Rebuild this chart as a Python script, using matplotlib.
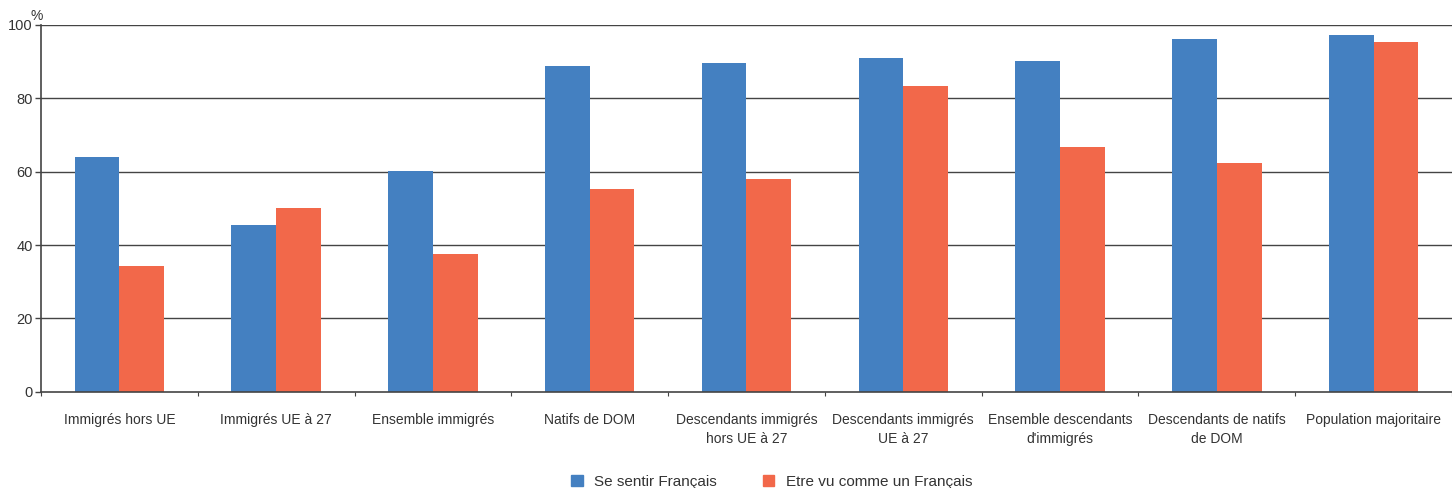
import matplotlib
matplotlib.use("Agg")
import matplotlib.pyplot as plt
import numpy as np
from matplotlib.patches import Patch

categories = ["Immigrés hors UE", "Immigrés UE à 27", "Ensemble immigrés", "Natifs de DOM",
              "Descendants immigrés\nhors UE à 27", "Descendants immigrés\nUE à 27",
              "Ensemble descendants\nd'immigrés", "Descendants de natifs\nde DOM",
              "Population majoritaire"]
se_sentir = [64.0, 45.5, 60.2, 88.8, 89.6, 91.0, 90.2, 96.2, 97.3]
etre_vu = [34.3, 50.1, 37.6, 55.3, 58.0, 83.4, 66.8, 62.4, 95.4]
series_names = ["Se sentir Français", "Etre vu comme un Français"]
yticks = [0, 20, 40, 60, 80, 100]

blue = "#4480C1"
red = "#F2684A"
dark = "#444444"

plt.rcParams['font.family'] = ['Liberation Sans', 'DejaVu Sans']

fig = plt.figure(figsize=(14.52, 4.88), dpi=100)
ax = fig.add_axes([0.0282, 0.197, 1 - 0.0282, 0.949 - 0.197])

x = np.arange(len(categories))
w = 0.285
ax.bar(x - w / 2, se_sentir, width=w, color=blue, zorder=3)
ax.bar(x + w / 2, etre_vu, width=w, color=red, zorder=3)

ax.set_ylim(0, 100)
ax.set_xlim(-0.5, 8.44)
ax.set_yticks(yticks)
ax.set_yticklabels([str(v) for v in yticks], fontsize=10.5, color="#333333")
for v in yticks[1:]:
    ax.axhline(v, color=dark, lw=1.0, zorder=1)

ax.set_xticks(x)
ax.set_xticklabels(categories, fontsize=10, color="#333333", linespacing=1.5)
ax.tick_params(axis='x', length=0, pad=15)
ax.set_xticks(np.arange(-0.5, 9.0, 1.0), minor=True)
ax.tick_params(axis='x', which='minor', length=3, color=dark, width=0.8, direction='out')
ax.tick_params(axis='y', length=4, color=dark, width=1, pad=2)

for s in ['top', 'right']:
    ax.spines[s].set_visible(False)
ax.spines['left'].set_color(dark)
ax.spines['left'].set_linewidth(1.2)
ax.spines['bottom'].set_color(dark)
ax.spines['bottom'].set_linewidth(1.2)
ax.spines['left'].set_zorder(4)
ax.spines['bottom'].set_zorder(4)

fig.text(0.0255, 0.967, "%", fontsize=10, color="#333333", ha='center', va='center')

handles = [Patch(color=blue), Patch(color=red)]
fig.legend(handles, series_names, loc='center', bbox_to_anchor=(0.5315, 0.012),
           ncol=2, frameon=False, fontsize=11, handlelength=0.75, handleheight=0.75,
           handletextpad=0.75, columnspacing=3.0, labelcolor="#333333")

fig.savefig("out.png", dpi=100)
